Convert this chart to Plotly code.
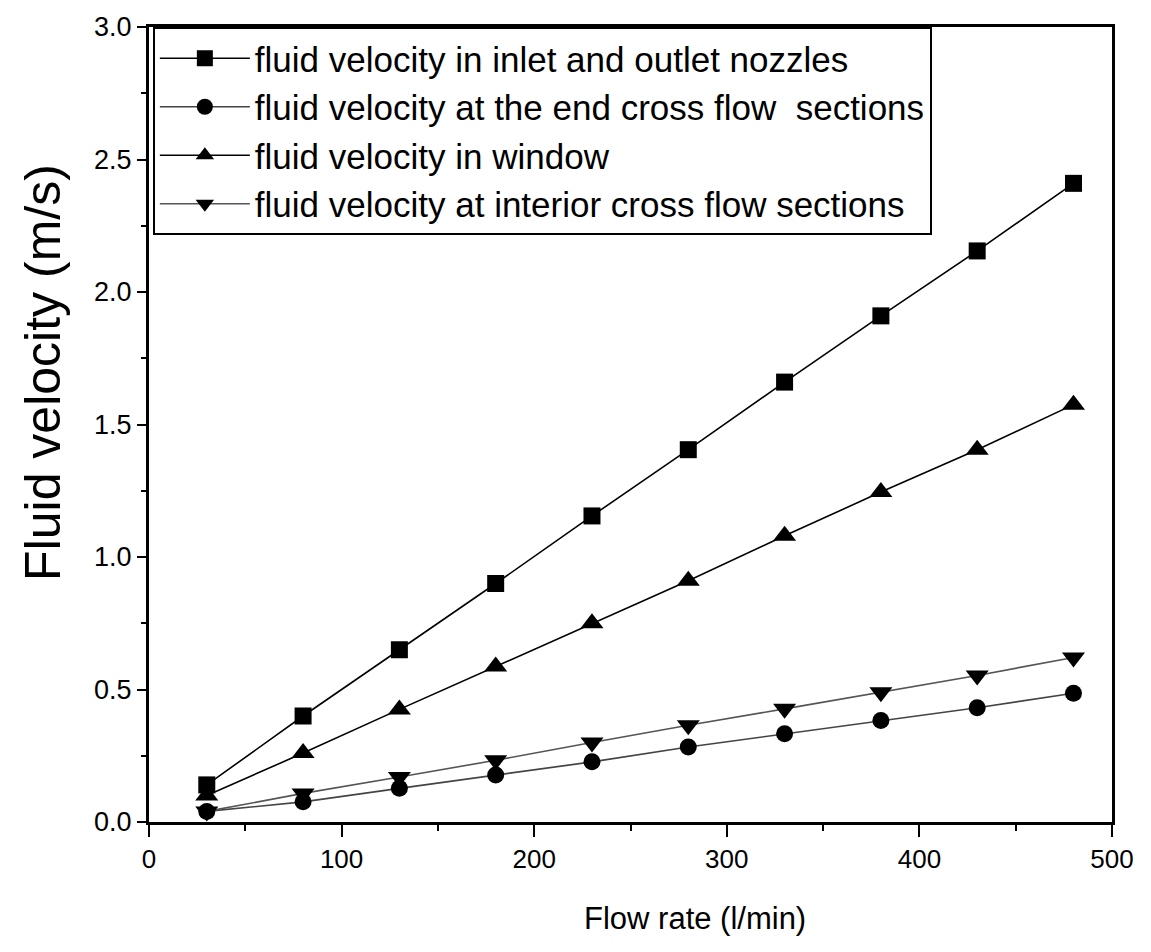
import plotly.graph_objects as go

flow = [30, 80, 130, 180, 230, 280, 330, 380, 430, 480]
v_nozzle = [0.14, 0.40, 0.65, 0.90, 1.155, 1.405, 1.66, 1.91, 2.155, 2.41]
v_end = [0.04, 0.076, 0.127, 0.177, 0.227, 0.283, 0.333, 0.383, 0.431, 0.486]
v_window = [0.10, 0.26, 0.425, 0.587, 0.75, 0.91, 1.08, 1.245, 1.405, 1.575]
v_interior = [0.04, 0.108, 0.17, 0.233, 0.30, 0.365, 0.427, 0.49, 0.553, 0.621]

names = [
    "fluid velocity in inlet and outlet nozzles",
    "fluid velocity at the end cross flow  sections",
    "fluid velocity in window",
    "fluid velocity at interior cross flow sections",
]
x_title = "Flow rate (l/min)"
y_title = "Fluid velocity (m/s)"

FONT = "Liberation Sans, Arial"

fig = go.Figure()
series = [
    (v_nozzle, "square", 17, "black"),
    (v_end, "circle", 17, "#444444"),
    (v_window, "triangle-up", 20, "black"),
    (v_interior, "triangle-down", 20, "#555555"),
]
for (ys, sym, sz, lc), nm in zip(series, names):
    fig.add_trace(go.Scatter(
        x=flow, y=ys, name=nm, mode="lines+markers",
        line=dict(color=lc, width=1.6),
        marker=dict(symbol=sym, size=sz, color="black"),
    ))

axis_common = dict(
    showline=True, linecolor="black", linewidth=3, mirror=True,
    ticks="outside", tickcolor="black", tickwidth=2,
    showgrid=False, zeroline=False,
)
fig.update_xaxes(
    range=[0, 500], dtick=100, ticklen=12, **axis_common,
    minor=dict(ticks="outside", dtick=50, ticklen=6, tickcolor="black", tickwidth=2),
    tickfont=dict(family=FONT, size=26, color="black"),
)
fig.update_yaxes(
    range=[0, 3.0], dtick=0.5, tickformat=".1f", ticklen=9, **axis_common,
    minor=dict(ticks="outside", dtick=0.25, ticklen=5, tickcolor="black", tickwidth=2),
    tickfont=dict(family=FONT, size=27, color="black"),
)

fig.add_annotation(
    text=x_title, xref="paper", yref="paper", x=0.567, y=-0.122,
    xanchor="center", yanchor="middle", showarrow=False,
    font=dict(family=FONT, size=31, color="black"),
)
fig.add_annotation(
    text=y_title, xref="paper", yref="paper", x=-0.11, y=0.565,
    xanchor="center", yanchor="middle", showarrow=False, textangle=-90,
    font=dict(family=FONT, size=50, color="black"),
)

fig.update_layout(
    width=1151, height=952,
    margin=dict(l=149, r=39, t=24, b=130),
    plot_bgcolor="white", paper_bgcolor="white",
    showlegend=True,
    legend=dict(
        x=0.004, y=1.0, xanchor="left", yanchor="top",
        bordercolor="black", borderwidth=2, bgcolor="white",
        font=dict(family=FONT, size=35, color="black"),
        tracegroupgap=0, itemwidth=90,
    ),
)

fig.write_html("out.html")
